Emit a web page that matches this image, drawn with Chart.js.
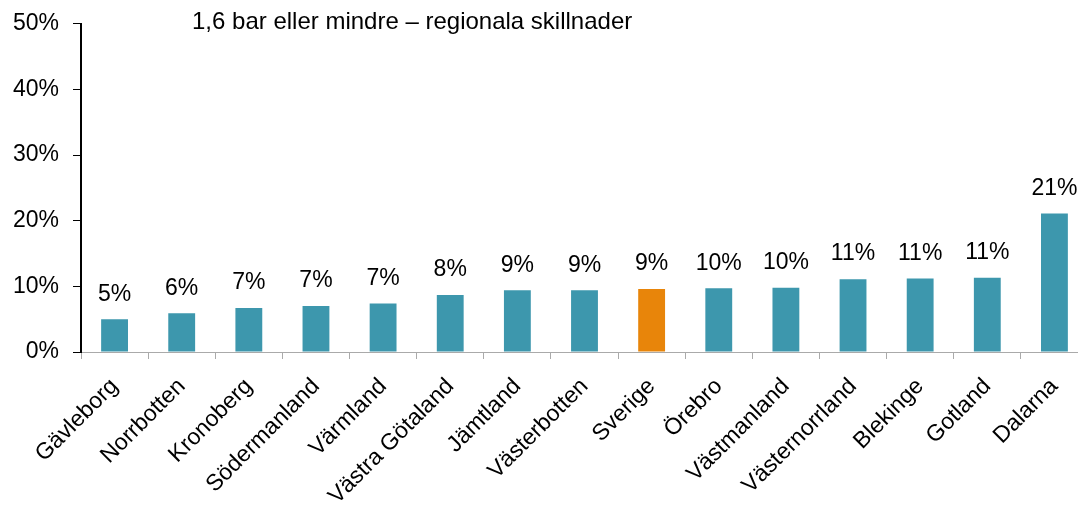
<!DOCTYPE html>
<html>
<head>
<meta charset="utf-8">
<script src="https://cdn.jsdelivr.net/npm/chart.js@4"></script>
<style>
  html, body { margin: 0; padding: 0; background: #fff; overflow: hidden; }
  #wrap { width: 1078px; height: 510px; overflow: hidden; position: relative; }
  /* the source cuts off the right end of the axis and sits slightly high */
  #chart { position: absolute; left: 0; top: -4px; }
</style>
</head>
<body>
<div id="wrap"><canvas id="chart" width="1088" height="514"></canvas></div>
<script>
// Regions, sorted by share
const regions = ['Gävleborg', 'Norrbotten', 'Kronoberg', 'Södermanland', 'Värmland', 'Västra Götaland',
    'Jämtland', 'Västerbotten', 'Sverige', 'Örebro', 'Västmanland', 'Västernorrland', 'Blekinge', 'Gotland', 'Dalarna'];
const shares = [5.0, 5.9, 6.7, 7.0, 7.4, 8.7, 9.4, 9.4, 9.6, 9.7, 9.8, 11.1, 11.2, 11.3, 21.1];
const shareLabels = ['5%', '6%', '7%', '7%', '7%', '8%', '9%', '9%', '9%', '10%', '10%', '11%', '11%', '11%', '21%'];
const yTicks = [0, 10, 20, 30, 40, 50];
const chartTitle = '1,6 bar eller mindre – regionala skillnader';

const TEAL = '#3d97ad';
const ORANGE = '#e8850a';
const FONT = '"Liberation Sans", Arial, Helvetica, sans-serif';

Chart.defaults.font.family = FONT;
Chart.defaults.color = '#000';

// value labels above bars
const barLabels = {
    id: 'barLabels',
    afterDatasetsDraw(chart) {
        const ctx = chart.ctx;
        const meta = chart.getDatasetMeta(0);
        ctx.save();
        ctx.font = '23px ' + FONT;
        ctx.fillStyle = '#000';
        ctx.textAlign = 'center';
        ctx.textBaseline = 'middle';
        meta.data.forEach((bar, i) => {
            ctx.fillText(shareLabels[i], bar.x, bar.y - 25);
        });
        ctx.restore();
    }
};

// title inside the plot area
const innerTitle = {
    id: 'innerTitle',
    afterDraw(chart) {
        const ctx = chart.ctx;
        ctx.save();
        ctx.font = '24px ' + FONT;
        ctx.fillStyle = '#000';
        ctx.textAlign = 'left';
        ctx.textBaseline = 'middle';
        ctx.fillText(chartTitle, 192, 26);
        ctx.restore();
    }
};

new Chart(document.getElementById('chart'), {
    type: 'bar',
    data: {
        labels: regions,
        datasets: [{
            data: shares,
            backgroundColor: regions.map(r => r === 'Sverige' ? ORANGE : TEAL),
            categoryPercentage: 1.0,
            barPercentage: 0.4
        }]
    },
    options: {
        responsive: false,
        animation: false,
        layout: { padding: { top: 13, right: 0, left: 1, bottom: 0 } },
        plugins: {
            legend: { display: false },
            tooltip: { enabled: false }
        },
        scales: {
            x: {
                offset: true,
                grid: { drawOnChartArea: false, offset: true, color: '#aaa', tickLength: 7, lineWidth: 1 },
                border: { color: '#aaa', width: 1 },
                ticks: {
                    font: { size: 23 },
                    color: '#000',
                    minRotation: 45,
                    maxRotation: 45,
                    autoSkip: false,
                    padding: 14
                },
                afterFit(scale) { scale.height = 158; }
            },
            y: {
                min: 0,
                max: 50,
                afterBuildTicks(scale) { scale.ticks = yTicks.map(v => ({ value: v })); },
                grid: { drawOnChartArea: false, color: '#000', tickLength: 8 },
                border: { color: '#000', width: 2 },
                ticks: {
                    font: { size: 23 },
                    color: '#000',
                    padding: 14,
                    callback: v => v + '%'
                },
                afterFit(scale) { scale.width = 80; }
            }
        }
    },
    plugins: [barLabels, innerTitle]
});
</script>
</body>
</html>
